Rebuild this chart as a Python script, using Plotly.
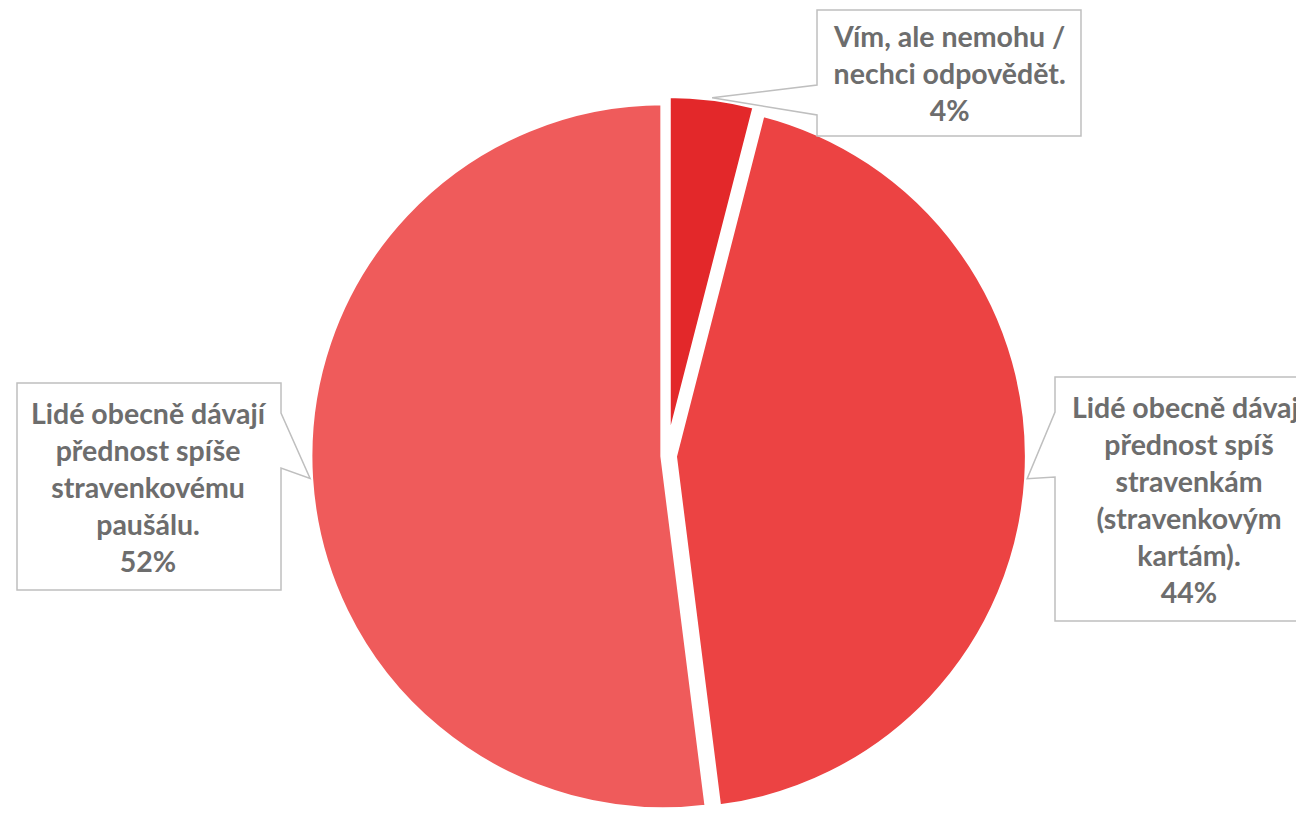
import math
import plotly.graph_objects as go

# ---- data ----
labels = [
    "Vím, ale nemohu / nechci odpovědět.",
    "Lidé obecně dávají přednost spíš stravenkám (stravenkovým kartám).",
    "Lidé obecně dávají přednost spíše stravenkovému paušálu.",
]
label_lines = [
    ["Vím, ale nemohu /", "nechci odpovědět."],
    ["Lidé obecně dávají", "přednost spíš", "stravenkám", "(stravenkovým", "kartám)."],
    ["Lidé obecně dávají", "přednost spíše", "stravenkovému", "paušálu."],
]
values = [4, 44, 52]
colors = ["#E3282A", "#EC4343", "#EF5B5B"]
pulls = [0.02, 0.02, 0.01]

# ---- layout constants ----
OFF = 8                      # default page body margin
W, H = 1304 - 2 * OFF, 817 - OFF
dom_x = [0.0231, 1.0]
dom_y = [0.0, 0.8925]
# callout boxes in window pixels: (left, top, right, bottom, side, base_top, base_bottom)
boxes = [
    (817, 10, 1081, 136, "left", 85, 115),
    (1055, 377, 1325, 621, "left", 412, 477),
    (17, 383, 281, 590, "right", 413, 468),
]

fig = go.Figure(go.Pie(
    labels=labels, values=values, sort=False, direction="clockwise", rotation=0,
    marker=dict(colors=colors, line=dict(color="white", width=6)),
    pull=pulls, textinfo="none", hoverinfo="label+percent", showlegend=False,
    domain=dict(x=dom_x, y=dom_y),
))

# pie geometry as plotly computes it (figure pixels)
availW = W * (dom_x[1] - dom_x[0])
availH = H * (dom_y[1] - dom_y[0])
r = min(availW, availH) / (2 + 2 * max(pulls))
cx = W * (dom_x[0] + dom_x[1]) / 2
cy = H * (1 - dom_y[0]) - availH / 2
total = sum(values)

def paper(x, y):
    # x, y in figure pixels
    return x / W, 1 - y / H

shapes = []
annotations = []
cum = 0
for i, v in enumerate(values):
    mid = (cum + v / 2) / total * 2 * math.pi
    cum += v
    rr = r * (1 + pulls[i])
    tx, ty = cx + rr * math.sin(mid), cy - rr * math.cos(mid)
    x0, y0, x1, y1, side, b0, b1 = [b - OFF if isinstance(b, (int, float)) else b for b in boxes[i]]
    if side == "left":
        pts = [(x0, y0), (x1, y0), (x1, y1), (x0, y1), (x0, b1), (tx, ty), (x0, b0)]
    else:
        pts = [(x0, y0), (x1, y0), (x1, b0), (tx, ty), (x1, b1), (x1, y1), (x0, y1)]
    path = "M " + " L ".join("%.5f,%.5f" % paper(*p) for p in pts) + " Z"
    shapes.append(dict(type="path", path=path, xref="paper", yref="paper",
                       fillcolor="white", line=dict(color="#BFBFBF", width=1.5), layer="above"))
    lines = label_lines[i] + [f"{v}%"]
    ax, ay = paper((x0 + x1) / 2, (y0 + y1) / 2)
    annotations.append(dict(x=ax, y=ay, xref="paper", yref="paper", xanchor="center", yanchor="middle",
                            showarrow=False, text="<br>".join(lines), align="center",
                            font=dict(family="Lato", size=28.5, color="#6D6D6D", weight="bold")))

fig.update_layout(
    width=W, height=H, margin=dict(l=0, r=0, t=0, b=0),
    paper_bgcolor="white", plot_bgcolor="white",
    shapes=shapes, annotations=annotations,
)
fig.write_html("out.html")
